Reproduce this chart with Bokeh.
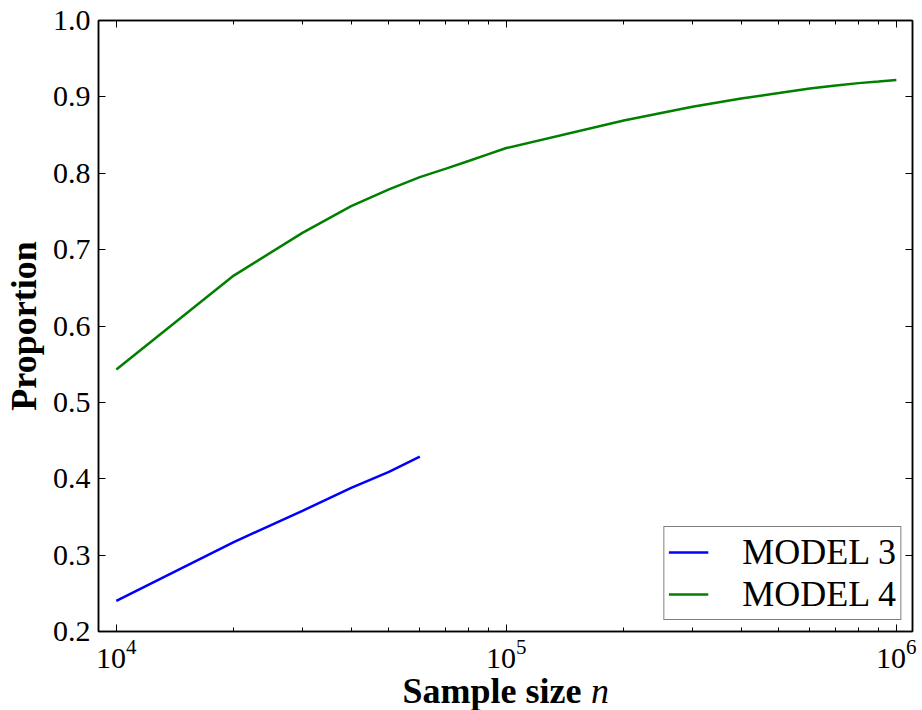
from bokeh.plotting import figure
from bokeh.models import (LogAxis, LinearAxis, Legend, LegendItem, FixedTicker,
                          PrintfTickFormatter, CustomJSTickFormatter, LogTickFormatter)
from bokeh.embed import file_html
from bokeh.resources import INLINE

# ---- data ----
n_model3 = [1e4, 2e4, 3e4, 4e4, 5e4, 6e4]
prop_model3 = [0.240, 0.317, 0.358, 0.388, 0.409, 0.429]

n_model4 = [1e4, 2e4, 3e4, 4e4, 5e4, 6e4, 7e4, 8e4, 9e4,
            1e5, 2e5, 3e5, 4e5, 5e5, 6e5, 7e5, 8e5, 9e5, 1e6]
prop_model4 = [0.543, 0.666, 0.722, 0.757, 0.779, 0.795, 0.806, 0.816, 0.825,
               0.833, 0.869, 0.887, 0.898, 0.905, 0.911, 0.915, 0.918, 0.920, 0.922]

series_labels = ["MODEL 3", "MODEL 4"]
x_ticks = [1e4, 1e5, 1e6]
x_minor_ticks = [m * 10 ** k for k in (4, 5) for m in range(2, 10)]
y_ticks = [0.2, 0.3, 0.4, 0.5, 0.6, 0.7, 0.8, 0.9, 1.0]

FONT = "Liberation Serif"
NBSP = "\u00a0"

p = figure(x_axis_type="log", x_range=(9e3, 1.1e6), y_range=(0.2, 1.0),
           frame_width=814, frame_height=611,
           min_border_left=92, min_border_top=20, min_border_right=6, min_border_bottom=60,
           output_backend="svg", toolbar_location=None)
p.grid.visible = False
p.outline_line_color = "black"
p.outline_line_width = 1.5
p.background_fill_color = "white"
p.border_fill_color = "white"

r3 = p.line(n_model3, prop_model3, line_color="#0000ff", line_width=2.5)
r4 = p.line(n_model4, prop_model4, line_color="#008000", line_width=2.5)

def style_axis(ax):
    ax.axis_line_color = "black"
    ax.axis_line_width = 1.5
    ax.major_tick_in = 7
    ax.major_tick_out = 0
    ax.minor_tick_in = 4
    ax.minor_tick_out = 0
    ax.major_tick_line_color = "black"
    ax.minor_tick_line_color = "black"
    ax.major_label_text_font = FONT
    ax.major_label_text_font_size = "30px"
    ax.major_label_text_color = "black"
    ax.axis_label_text_font = FONT
    ax.axis_label_text_font_size = "36px"
    ax.axis_label_text_font_style = "bold"
    ax.axis_label_text_color = "black"

# bottom x axis
xa = p.xaxis[0]
style_axis(xa)
xa.ticker = FixedTicker(ticks=x_ticks, minor_ticks=x_minor_ticks)
xa.formatter = LogTickFormatter()
xa.major_label_standoff = 8
xa.axis_label = "Sample size" + NBSP * 3
xa.axis_label_standoff = 0

# second (label-only) axis carrying the italic n of the x label
xn = LogAxis(ticker=FixedTicker(ticks=[]), formatter=CustomJSTickFormatter(code="return ''"))
xn.axis_line_color = None
xn.major_tick_line_color = None
xn.minor_tick_line_color = None
xn.major_tick_in = 0
xn.major_tick_out = 0
xn.minor_tick_in = 0
xn.minor_tick_out = 0
xn.major_label_standoff = 0
xn.axis_label = NBSP * 21 + "n"
xn.axis_label_text_font = FONT
xn.axis_label_text_font_size = "36px"
xn.axis_label_text_font_style = "italic"
xn.axis_label_text_color = "black"
xn.axis_label_standoff = -43
p.add_layout(xn, "below")

# left y axis
ya = p.yaxis[0]
style_axis(ya)
ya.ticker = FixedTicker(ticks=y_ticks)
ya.formatter = PrintfTickFormatter(format="%.1f")
ya.minor_tick_line_color = None
ya.major_label_standoff = 8
ya.axis_label = "Proportion"
ya.axis_label_standoff = 6

# top / right mirror axes (ticks only)
top = LogAxis(ticker=FixedTicker(ticks=x_ticks, minor_ticks=x_minor_ticks),
              formatter=CustomJSTickFormatter(code="return ''"))
style_axis(top)
top.major_label_standoff = 0
p.add_layout(top, "above")

right = LinearAxis(ticker=FixedTicker(ticks=y_ticks),
                   formatter=CustomJSTickFormatter(code="return ''"))
style_axis(right)
right.minor_tick_line_color = None
right.major_label_standoff = 0
p.add_layout(right, "right")

legend = Legend(items=[LegendItem(label=series_labels[0], renderers=[r3]),
                       LegendItem(label=series_labels[1], renderers=[r4])],
                location="bottom_right")
legend.label_text_font = FONT
legend.label_text_font_size = "36px"
legend.label_text_color = "black"
legend.glyph_width = 40
legend.label_standoff = 34
legend.padding = 4
legend.spacing = 0
legend.margin = 11
legend.border_line_color = "black"
legend.border_line_width = 1.5
legend.background_fill_color = "white"
legend.background_fill_alpha = 1.0
p.add_layout(legend)

open("out.html", "w").write(file_html(p, INLINE))
